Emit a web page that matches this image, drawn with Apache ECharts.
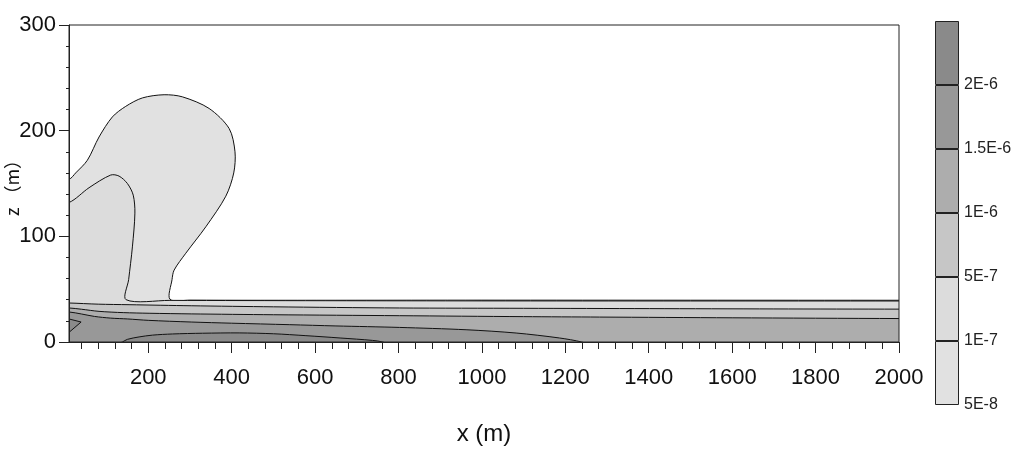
<!DOCTYPE html>
<html>
<head>
<meta charset="utf-8">
<title>contour</title>
<script src="https://cdn.jsdelivr.net/npm/echarts@6/dist/echarts.min.js"></script>
<style>
  html, body { margin: 0; padding: 0; background: #fff; }
  #main { width: 1019px; height: 454px; }
</style>
</head>
<body>
<div id="main"></div>
<script>
// contour lines, [x (m), z (m)]
var line5e8 = [[10,154],[26,160],[54,172],[82,194],[114,213],[146,223],[186,231],[238,234],[282,232],[346,221],[394,202],[408,180],[405,160],[386,138],[338,109],[290,84],[262,68],[257,59],[252,40.5],[300,39.6],[1000,39.6],[2000,39.5]];
var line1e7 = [[10,132],[58,146],[110,158],[130,157],[150,150],[164,139],[168,122],[162,90],[153,59],[147,40],[252,39.4],[1000,38.9],[2000,38.8]];
var line5e7 = [[10,36.9],[80,35.8],[154,35.3],[303,34.3],[500,33.3],[802,32.2],[1100,31.9],[1402,31.6],[1700,31.3],[2000,31.1]];
var line1e6 = [[10,32.2],[40,31],[82,29],[140,27.8],[202,27.2],[303,26.6],[500,25.8],[802,24.9],[1100,24],[1282,23.6],[1600,22.9],[2000,22.2]];
var line15e6 = [[10,28.4],[40,26.5],[71,24.2],[110,22.6],[151,21.8],[200,20.5],[303,18.9],[400,17.8],[538,16.4],[650,15.2],[802,13.8],[962,11.6],[1082,8.5],[1186,3.8],[1239,0]];
var line2e6Lens = [[138,0],[150,2.5],[178,4.8],[210,6.5],[258,7.6],[330,8.3],[418,8.6],[500,7.8],[578,6],[660,3.8],[738,1.5],[762,0]];
var line2e6Notch = [[10,21.8],[39,18.9],[10,9.1]];

var xTicks = [200,400,600,800,1000,1200,1400,1600,1800,2000];
var levelLabels = ['5E-8','1E-7','5E-7','1E-6','1.5E-6','2E-6'];
var bandColors = ['#e1e1e1','#dcdcdc','#c6c6c6','#adadad','#989898','#8a8a8a'];

var xMin = 10, xMax = 2000, pad = 40;

// close a contour that leaves the left edge, going round outside the plot
function fromLeft(line) {
  var last = line[line.length - 1];
  var pts = [[xMin - pad, line[0][1]]].concat(line);
  if (last[1] > 0) pts.push([xMax + pad, last[1]], [xMax + pad, -20]);
  else pts.push([last[0] + 15, -3], [last[0] + 15, -20]);
  pts.push([xMin - pad, -20]);
  return pts;
}
function fromBottom(line) {
  var a = line[0], b = line[line.length - 1];
  return [[a[0] - 15, -20], [a[0] - 15, -3]].concat(line, [[b[0] + 15, -3], [b[0] + 15, -20]]);
}
function leftLoop(line) {
  return [[xMin - pad, line[0][1]]].concat(line, [[xMin - pad, line[line.length - 1][1]]]);
}

function region(poly, fill, smooth) {
  return {
    type: 'custom',
    coordinateSystem: 'cartesian2d',
    xAxisIndex: 0,
    yAxisIndex: 0,
    clip: true,
    silent: true,
    data: poly,
    renderItem: function (params, api) {
      if (params.dataIndex !== 0) return;
      return {
        type: 'polygon',
        shape: { points: poly.map(function (p) { return api.coord(p); }), smooth: smooth },
        style: { fill: fill, stroke: '#111', lineWidth: 1 }
      };
    }
  };
}

var minorX = [];
for (var v = 40; v < xMax; v += 40) if (v % 200 !== 0) minorX.push(v);

var tickFont = "'Liberation Sans', Arial, sans-serif";

var series = [
  region(fromLeft(line5e8), bandColors[0], 0.3),
  region(fromLeft(line1e7), bandColors[1], 0.3),
  region(fromLeft(line5e7), bandColors[2], 0.3),
  region(fromLeft(line1e6), bandColors[3], 0.3),
  region(fromLeft(line15e6), bandColors[4], 0.3),
  region(fromBottom(line2e6Lens), bandColors[5], 0.3),
  region(leftLoop(line2e6Notch), bandColors[5], 0)
];
// colour bar: one unit per band
bandColors.forEach(function (c) {
  series.push({
    type: 'bar', stack: 'bar', xAxisIndex: 2, yAxisIndex: 1, barWidth: '100%', silent: true,
    data: [1],
    itemStyle: { color: c, borderColor: '#222', borderWidth: 1 }
  });
});

var chart = echarts.init(document.getElementById('main'));
chart.setOption({
  animation: false,
  backgroundColor: '#fff',
  grid: [
    { left: 69, right: 120, top: 25, bottom: 112, show: true, borderColor: '#222', borderWidth: 1, z: 10, outerBoundsMode: 'none', containLabel: false },
    { left: 935, width: 24, top: 21, height: 384, outerBoundsMode: 'none', containLabel: false }
  ],
  xAxis: [
    {
      type: 'value', gridIndex: 0, min: xMin, max: xMax, z: 10, position: 'bottom',
      name: 'x (m)', nameLocation: 'middle', nameGap: 80, nameMoveOverlap: false,
      nameTextStyle: { fontSize: 24, fontFamily: tickFont, color: '#111' },
      axisLine: { lineStyle: { color: '#222', width: 1 } },
      axisTick: { length: 11, customValues: xTicks, lineStyle: { color: '#222' } },
      axisLabel: {
        customValues: xTicks, fontSize: 22, fontFamily: tickFont, color: '#111', margin: 25,
        formatter: function (val) { return String(val); }
      },
      splitLine: { show: false }
    },
    {
      type: 'value', gridIndex: 0, min: xMin, max: xMax, z: 10, position: 'bottom',
      axisLine: { show: false },
      axisTick: { length: 7, customValues: minorX, lineStyle: { color: '#222' } },
      axisLabel: { show: false, customValues: minorX },
      splitLine: { show: false }
    },
    { type: 'category', gridIndex: 1, data: [''], show: false }
  ],
  yAxis: [
    {
      type: 'value', gridIndex: 0, min: 0, max: 300, interval: 100, z: 10,
      name: 'z \uff08m\uff09', nameLocation: 'middle', nameGap: 48, nameRotate: 90, nameMoveOverlap: false,
      nameTextStyle: { fontSize: 18, fontFamily: "'Noto Sans CJK SC', sans-serif", color: '#111' },
      axisLine: { show: true, lineStyle: { color: '#222', width: 1 } },
      axisTick: { length: 10, lineStyle: { color: '#222' } },
      minorTick: { show: true, splitNumber: 5, length: 3, lineStyle: { color: '#222' } },
      axisLabel: { fontSize: 22, fontFamily: tickFont, color: '#111', margin: 13 },
      splitLine: { show: false }
    },
    {
      type: 'value', gridIndex: 1, min: 0, max: 6, interval: 1, position: 'right',
      axisLine: { show: false }, axisTick: { show: false }, splitLine: { show: false },
      axisLabel: {
        margin: 5, fontSize: 16, color: '#222', fontFamily: tickFont,
        formatter: function (val) { return levelLabels[val] || ''; }
      }
    }
  ],
  series: series
});
</script>
</body>
</html>
